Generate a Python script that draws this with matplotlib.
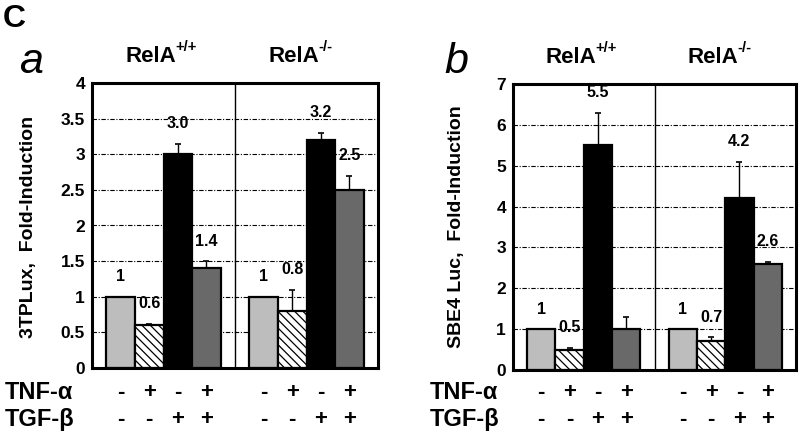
import matplotlib
matplotlib.use("Agg")
import matplotlib.pyplot as plt
import numpy as np

plt.rcParams['font.family'] = ['Liberation Sans', 'DejaVu Sans']
plt.rcParams['hatch.linewidth'] = 0.9

# data
tnf_signs = ['-', '+', '-', '+', '-', '+', '-', '+']
tgf_signs = ['-', '-', '+', '+', '-', '-', '+', '+']
groups = ['+/+', '-/-']

a_values = [1.0, 0.6, 3.0, 1.4, 1.0, 0.8, 3.2, 2.5]
a_errors = [0.0, 0.02, 0.15, 0.1, 0.0, 0.3, 0.1, 0.2]
a_labels = ['1', '0.6', '3.0', '1.4', '1', '0.8', '3.2', '2.5']
a_yticks = [0, 0.5, 1, 1.5, 2, 2.5, 3, 3.5, 4]
a_yticklabels = ['0', '0.5', '1', '1.5', '2', '2.5', '3', '3.5', '4']

b_values = [1.0, 0.5, 5.5, 1.0, 1.0, 0.7, 4.2, 2.6]
b_errors = [0.0, 0.05, 0.8, 0.3, 0.0, 0.1, 0.9, 0.05]
b_labels = ['1', '0.5', '5.5', '', '1', '0.7', '4.2', '2.6']
b_yticks = [0, 1, 2, 3, 4, 5, 6, 7]

bar_colors = ['#bdbdbd', 'white', 'black', '#696969'] * 2
bar_hatch = [None, '\\\\\\\\', None, None] * 2
x = [0, 1, 2, 3, 5, 6, 7, 8]

fig = plt.figure(figsize=(8, 4.36), dpi=100)


def draw_panel(ax, values, errors, labels, yticks, yticklabels, ymax, letter, ylabel, lx, ylx):
    for yt in yticks[1:-1]:
        ax.axhline(yt, color='black', lw=0.8, ls=(0, (4, 1.5, 1, 1.5)), zorder=1)
    ax.axvline(4, color='black', lw=1.0, zorder=1)
    ax.bar(x, values, width=1.0, color=bar_colors, edgecolor='black', linewidth=1.6,
           hatch=bar_hatch, zorder=2)
    errs = np.array(errors)
    ax.errorbar(x, values, yerr=[np.zeros_like(errs), errs], fmt='none', ecolor='black',
                elinewidth=1.0, capsize=2.5, capthick=1.2, zorder=3)
    for xi, v, e, lab in zip(x, values, errors, labels):
        if lab:
            ax.annotate(lab, (xi, v + e), xytext=(0, 9), textcoords='offset points',
                        ha='center', va='bottom', fontsize=11.5, fontweight='bold')
    ax.set_xlim(-1, 9)
    ax.set_ylim(0, ymax)
    ax.set_yticks(yticks)
    ax.set_yticklabels(yticklabels, fontsize=12.5, fontweight='bold')
    ax.set_xticks([])
    ax.tick_params(axis='y', length=0, pad=5)
    for sp in ax.spines.values():
        sp.set_linewidth(2.2)

    # group titles
    for gc, g in zip([1.5, 6.5], groups):
        t = ax.text(gc - 0.45, 1.0 + 16 / 285, 'RelA', transform=ax.transAxes
                    if False else ax.get_xaxis_transform(),
                    ha='center', va='bottom', fontsize=16, fontweight='bold')
        ax.annotate(g, xy=(0.98, 0.62), xycoords=t, ha='left', va='bottom',
                    fontsize=10.5, fontweight='bold')

    # treatment signs
    tr = matplotlib.transforms.blended_transform_factory(ax.transData, fig.transFigure)
    for xi, s1, s2 in zip(x, tnf_signs, tgf_signs):
        ax.text(xi, 1 - 392 / 436, s1, transform=tr, ha='center', va='center',
                fontsize=16, fontweight='bold')
        ax.text(xi, 1 - 419 / 436, s2, transform=tr, ha='center', va='center',
                fontsize=16, fontweight='bold')
    fig.text(lx / 800, 1 - 392 / 436, 'TNF-α', ha='left', va='center', fontsize=17,
             fontweight='bold')
    fig.text(lx / 800, 1 - 419 / 436, 'TGF-β', ha='left', va='center', fontsize=17,
             fontweight='bold')
    fig.text(ylx / 800, 0.48, ylabel, rotation=90, ha='center', va='center',
             fontsize=14, fontweight='bold')
    fig.text((lx + 14) / 800, 1 - 73 / 436, letter, ha='left', va='baseline',
             fontsize=31, fontstyle='italic')


ax_a = fig.add_axes([92 / 800, 68 / 436, 286 / 800, 285 / 436])
draw_panel(ax_a, a_values, a_errors, a_labels, a_yticks, a_yticklabels, 4, 'a',
           '3TPLux,  Fold-Induction', 5, 28)

ax_b = fig.add_axes([513 / 800, 66 / 436, 283 / 800, 286 / 436])
draw_panel(ax_b, b_values, b_errors, b_labels, b_yticks, [str(v) for v in b_yticks], 7, 'b',
           'SBE4 Luc,  Fold-Induction', 430, 457)

fig.text(3 / 800, 1 - 27 / 436, 'C', ha='left', va='baseline', fontsize=23, fontweight='bold')

fig.savefig('out.png', dpi=100)
